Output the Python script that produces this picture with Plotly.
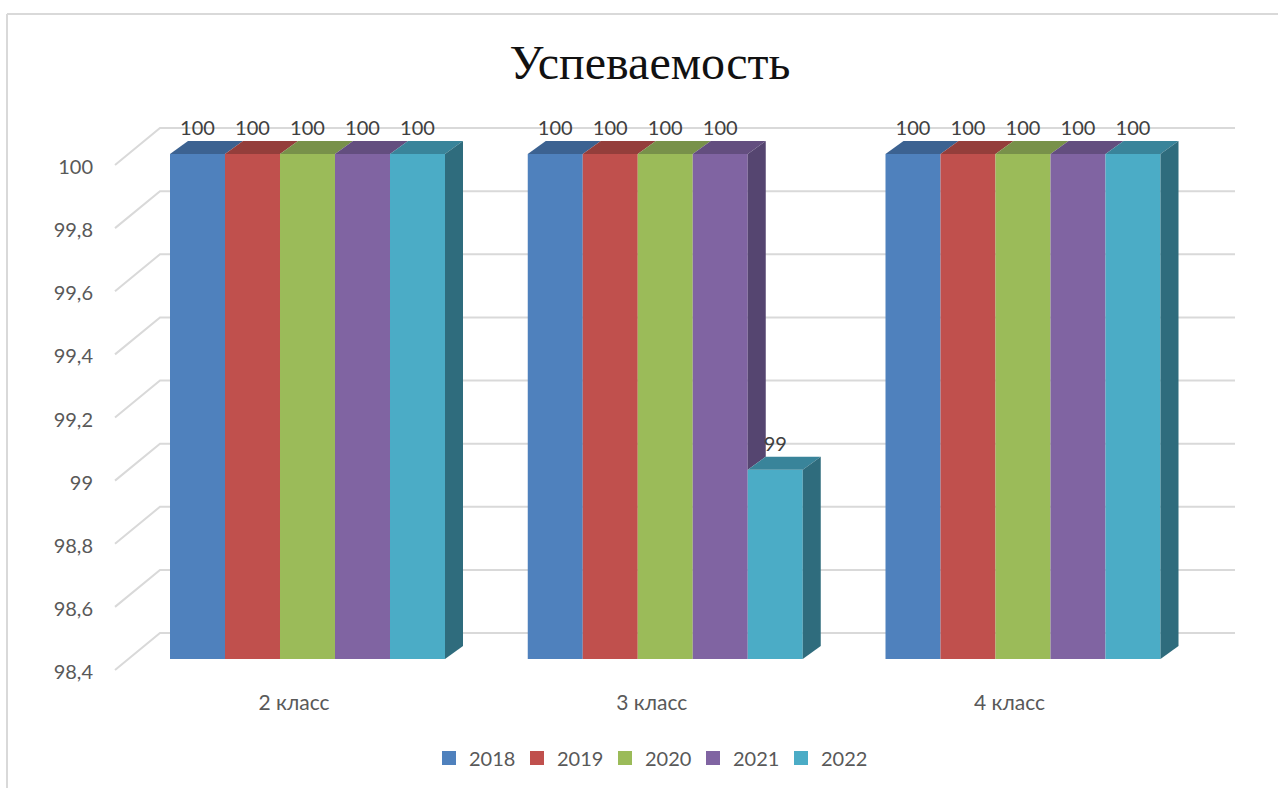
import plotly.graph_objects as go

categories = ["2 класс", "3 класс", "4 класс"]
series_names = ["2018", "2019", "2020", "2021", "2022"]
v2018 = [100, 100, 100]
v2019 = [100, 100, 100]
v2020 = [100, 100, 100]
v2021 = [100, 100, 100]
v2022 = [100, 99, 100]
series_values = [v2018, v2019, v2020, v2021, v2022]
tick_values = [98.4, 98.6, 98.8, 99, 99.2, 99.4, 99.6, 99.8, 100]
tick_labels = ["98,4", "98,6", "98,8", "99", "99,2", "99,4", "99,6", "99,8", "100"]

front = ["#4F81BD", "#C0504D", "#9BBB59", "#8064A2", "#4BACC6"]
top = ["#3C6291", "#943E3B", "#78914A", "#634E7F", "#39849A"]
side = ["#30506F", "#763230", "#5F733A", "#554570", "#2F6C7D"]
GRID = "#D9D9D9"
TEXT = "#595959"
LABEL = "#404040"
FONT = "Lato"

W, H = 1278, 788
PX_X = 357.75      # pixels per category step
PX_Y = 315.625     # pixels per value unit
BAR = 55 / PX_X    # width of one bar
GAP = 1 - 5 * BAR
DX, DY = 18 / PX_X, 13 / PX_Y    # bar depth
WALL_DY = 37 / PX_Y              # floor depth of the axis walls
WALL_L, WALL_M, WALL_R = (115 - 294) / PX_X, (160 - 294) / PX_X, (1235 - 294) / PX_X
LABEL_UP = 24 / PX_Y
FLOOR = tick_values[0]

fig = go.Figure()

# Wall gridlines (base subplot, drawn behind the bars)
gx, gy = [], []
for t in tick_values:
    gx += [WALL_L, WALL_M, WALL_R, None]
    gy += [t, t + WALL_DY, t + WALL_DY, None]
fig.add_trace(go.Scatter(x=gx, y=gy, mode="lines", line=dict(color=GRID, width=2),
                         showlegend=False, hoverinfo="skip", xaxis="x", yaxis="y"))

# Front faces; the plot-area floor clips them at the lowest tick
for i, name in enumerate(series_names):
    fig.add_trace(go.Bar(x=list(range(len(categories))), y=series_values[i], name=name,
                         marker=dict(color=front[i], line=dict(width=0)), showlegend=False,
                         xaxis="x2", yaxis="y2"))
    # legend entry with the reference's larger square swatch
    fig.add_trace(go.Scatter(x=[None], y=[None], name=name, mode="markers",
                             marker=dict(symbol="square", size=14, color=front[i]),
                             xaxis="x2", yaxis="y2"))


def face(xs, ys, color):
    fig.add_trace(go.Scatter(x=xs, y=ys, mode="lines", fill="toself", fillcolor=color,
                             line=dict(width=0, color=color), showlegend=False,
                             hoverinfo="skip", xaxis="x2", yaxis="y2"))


# Top and side faces, derived from the values
for c in range(len(categories)):
    for i in range(len(series_names)):
        v = series_values[i][c]
        l = c - 2.5 * BAR + i * BAR
        r = l + BAR
        face([l, r, r + DX, l + DX, l], [v, v, v + DY, v + DY, v], top[i])
        lower = series_values[i + 1][c] if i + 1 < len(series_names) else FLOOR
        if lower < v:
            face([r, r + DX, r + DX, r, r], [v, v + DY, lower + DY, lower, v], side[i])

# Data labels
lx, ly, lt = [], [], []
for c in range(len(categories)):
    for i in range(len(series_names)):
        v = series_values[i][c]
        lx.append(c - 2.5 * BAR + (i + 0.5) * BAR)
        ly.append(v + LABEL_UP)
        lt.append(str(v))
fig.add_trace(go.Scatter(x=lx, y=ly, text=lt, mode="text", textposition="middle center",
                         textfont=dict(family=FONT, size=20, color=LABEL), showlegend=False,
                         hoverinfo="skip", xaxis="x2", yaxis="y2"))

fig.update_layout(
    width=W, height=H, paper_bgcolor="white", plot_bgcolor="rgba(0,0,0,0)",
    margin=dict(l=0, r=0, t=0, b=0), showlegend=True, barmode="group", bargap=GAP, bargroupgap=0,
    title=dict(text="Успеваемость", x=650 / W, xanchor="center", y=1 - 62 / H, yanchor="middle",
               font=dict(family="Liberation Serif", size=48, color="#111111")),
    xaxis=dict(domain=[104 / W, 1], range=[(104 - 294) / PX_X, (W - 294) / PX_X],
               tickmode="array", tickvals=list(range(len(categories))), ticktext=categories,
               showgrid=False, zeroline=False, showline=False, ticks="",
               tickfont=dict(family=FONT, size=21, color=TEXT), anchor="y"),
    yaxis=dict(domain=[(H - 688) / H, 1], range=[100 - (688 - 165) / PX_Y, 100 + 165 / PX_Y],
               tickmode="array", tickvals=tick_values, ticktext=tick_labels,
               showgrid=False, zeroline=False, showline=False, ticks="", ticklabelstandoff=10,
               ticklabelshift=2,
               tickfont=dict(family=FONT, size=20, color=TEXT), anchor="x"),
    xaxis2=dict(domain=[104 / W, 1], range=[(104 - 307.5) / PX_X, (W - 307.5) / PX_X],
                visible=False, anchor="y2"),
    yaxis2=dict(domain=[(H - 659) / H, 1], range=[FLOOR, 100 + 154 / PX_Y],
                visible=False, anchor="x2"),
    legend=dict(orientation="h", x=649 / W, xanchor="center", y=(H - 758) / H, yanchor="middle",
                font=dict(family=FONT, size=20, color=TEXT), entrywidth=43, entrywidthmode="pixels",
                bgcolor="rgba(0,0,0,0)"),
    shapes=[
        dict(type="line", xref="paper", yref="paper", x0=7 / W, x1=1, y0=1 - 14 / H, y1=1 - 14 / H,
             line=dict(color=GRID, width=2)),
        dict(type="line", xref="paper", yref="paper", x0=7 / W, x1=7 / W, y0=0, y1=1 - 14 / H,
             line=dict(color=GRID, width=2)),
    ],
)

fig.write_html("out.html", config=dict(displayModeBar=False),
               post_script="document.body.style.margin='0';")
